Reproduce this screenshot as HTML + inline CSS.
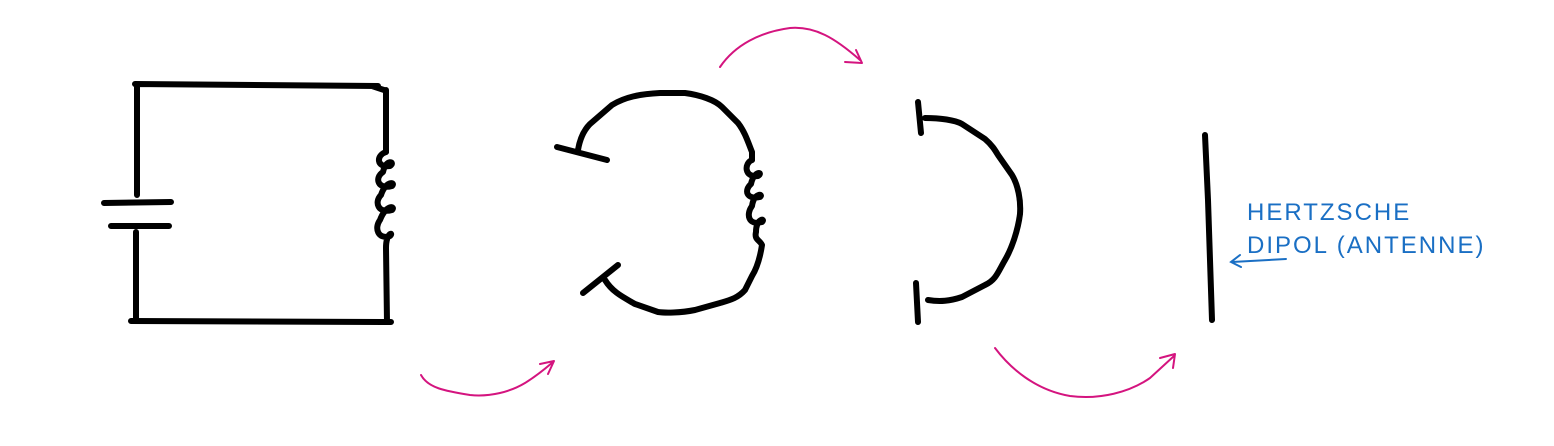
<!DOCTYPE html>
<html><head><meta charset="utf-8"><style>
html,body{margin:0;padding:0;background:#fff;width:1554px;height:446px;overflow:hidden}
svg{display:block}
.k{fill:none;stroke:#000;stroke-width:6;stroke-linecap:round;stroke-linejoin:round}
.p{fill:none;stroke:#d4147f;stroke-width:2;stroke-linecap:round;stroke-linejoin:round}
.b{fill:none;stroke:#1a6fc4;stroke-width:2;stroke-linecap:round}
text{font-family:"Liberation Sans",sans-serif;fill:#1a6fc4;font-size:24px;letter-spacing:2px;font-weight:300}
</style></head><body>
<svg width="1554" height="446" viewBox="0 0 1554 446">
<g>
<path class="k" d="M135 84 L378 86 M372 86 L384 90 M137 86 L137 195 M104 203 L171 202 M111 226 L169 226 M136 232 L136 320 M131 321 L391 322 M386 90 L386 152"/>
<path class="k" d="M386 152 C376 155 376 168 390 166 C396 162 386 158 383 172 C374 178 378 190 392 186 C396 182 386 180 381 195 C374 202 378 214 392 210 C396 206 386 204 380 220 C374 228 378 240 390 236 C394 232 386 232 386 248 L387 322"/>
</g>
<g>
<path class="k" d="M557 147 L607 160 M578 150 C580 138 584 130 590 124 L612 105 C625 97 640 94 660 93 L685 93 C700 95 715 100 722 107 L738 123 C745 132 748 142 752 152 L752 160"/>
<path class="k" d="M752 160 C744 163 744 178 758 176 C764 172 754 170 751 184 C744 190 746 200 760 197 C764 194 754 192 752 206 C746 214 748 226 762 222 C766 218 756 218 756 232 C754 240 760 240 762 245 C760 258 757 268 752 276 L745 290 C738 298 730 300 720 303 L695 310 C680 313 665 313 658 312 L635 304 C625 298 613 293 605 280 M583 293 L618 265"/>
</g>
<g>
<path class="k" d="M918 102 L921 133 M925 118 C940 118 955 120 962 124 L985 139 C992 145 995 150 998 155 L1012 175 C1018 185 1021 200 1020 214 C1018 230 1012 248 1005 260 C998 272 996 280 985 285 L962 297 C950 301 940 302 928 300 M916 283 L918 322"/>
</g>
<path class="k" d="M1205 135 L1208 200 L1212 320"/>
<g>
<text x="1247" y="220">HERTZSCHE</text>
<text x="1247" y="253">DIPOL (ANTENNE)</text>
<path class="b" d="M1286 259 L1232 262 M1240 255 L1231 262 L1241 267"/>
</g>
<g>
<path class="p" d="M421 375 C428 388 445 391 470 395 C490 397 510 392 525 383 C538 375 546 368 553 362 M540 364 L554 361 L548 374"/>
<path class="p" d="M720 67 C735 45 760 32 790 28 C815 26 835 38 860 60 M845 62 L862 63 L856 50"/>
<path class="p" d="M995 348 C1010 368 1035 390 1070 396 C1100 400 1130 392 1150 378 L1174 356 M1160 358 L1175 354 L1173 368"/>
</g>
</svg>
</body></html>
